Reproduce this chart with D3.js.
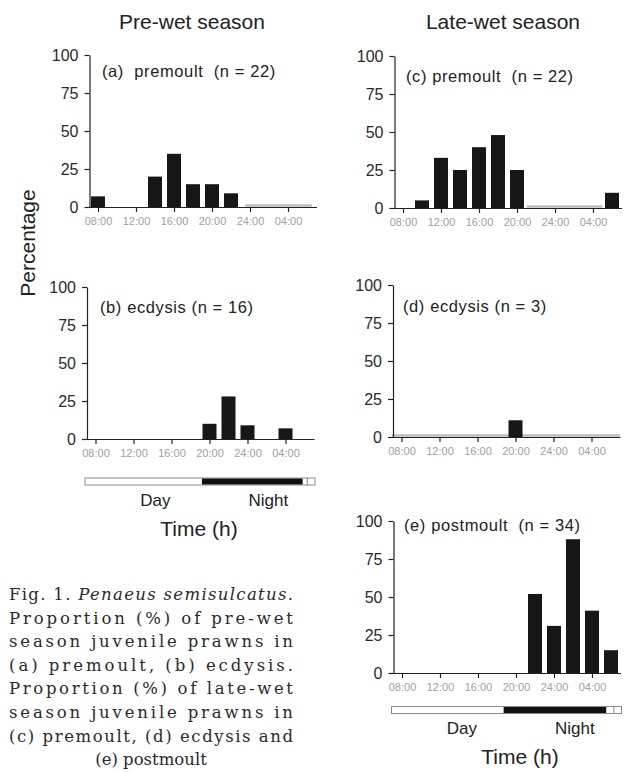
<!DOCTYPE html>
<html>
<head>
<meta charset="utf-8">
<script src="https://cdn.jsdelivr.net/npm/d3@7"></script>
<style>
  body { margin: 0; background: #fff; }
  svg { display: block; }
  text { font-family: "Liberation Sans", Arial, sans-serif; }
</style>
</head>
<body>
<svg width="628" height="772"></svg>
<script>
// 2-hour bins, centred on the even hours (30 = 06:00 next morning)
const binHours = [8, 10, 12, 14, 16, 18, 20, 22, 24, 26, 28, 30];
const tickHours = [8, 12, 16, 20, 24, 28];
const tickLabels = ["08:00", "12:00", "16:00", "20:00", "24:00", "04:00"];
const yTicks = [0, 25, 50, 75, 100];

// Percentages
const premoultPre = [7, 0, 0, 20, 35, 15, 15, 9, 0, 0, 0, 0];
const ecdysisPre = [0, 0, 0, 0, 0, 0, 10, 28, 9, 0, 7, 0];
const premoultLate = [0, 5, 33, 25, 40, 48, 25, 0, 0, 0, 0, 10];
const ecdysisLate = [0, 0, 0, 0, 0, 0, 11, 0, 0, 0, 0, 0];
const postmoultLate = [0, 0, 0, 0, 0, 0, 0, 52, 31, 88, 41, 15];

// Faint grey stretches along the baseline (hours)
const greyA = [23.5, 30.5];
const greyC = [21, 29];
const greyD = [7, 31];

// Night part of the day/night strip (hours)
const nightPre = [19.2, 29.8];
const nightLate = [18.7, 29.5];

const captionLines = [
  "Fig. 1. |Penaeus semisulcatus.",
  "Proportion (%) of pre-wet",
  "season juvenile prawns in",
  "(a) premoult, (b) ecdysis.",
  "Proportion (%) of late-wet",
  "season juvenile prawns in",
  "(c) premoult, (d) ecdysis and",
  "(e) postmoult"
];

const svg = d3.select("svg");
const hourPx = 9.5;      // px per hour
const barW = 14;

function drawPanel(cfg) {
  const x = d3.scaleLinear().domain([7, 31]).range([cfg.x0, cfg.x0 + 24 * hourPx]);
  const y = d3.scaleLinear().domain([0, 100]).range([cfg.y0, cfg.y0 - 152]);
  const g = svg.append("g");

  // grey baseline stretch
  if (cfg.grey) {
    g.append("line")
      .attr("x1", x(cfg.grey[0])).attr("x2", x(cfg.grey[1]))
      .attr("y1", y(0) - 1.5).attr("y2", y(0) - 1.5)
      .attr("stroke", "#bdbdbd").attr("stroke-width", 2.5);
  }

  // bars
  g.append("g").attr("fill", "#171717")
    .selectAll("rect")
    .data(binHours.map((h, i) => ({ h, v: cfg.values[i] })).filter(d => d.v > 0))
    .join("rect")
      .attr("x", d => x(d.h) - barW / 2)
      .attr("y", d => y(d.v))
      .attr("width", barW)
      .attr("height", d => y(0) - y(d.v));

  // y axis
  const yAx = g.append("g")
    .attr("transform", `translate(${x(7) + 1},0)`)
    .call(d3.axisLeft(y).tickValues(yTicks).tickSize(5).tickSizeOuter(0).tickPadding(6));
  yAx.selectAll("text").attr("font-size", 16).attr("fill", "#2a2a2a")
    .style("font-family", '"Liberation Sans", Arial, sans-serif');
  yAx.selectAll("line, path").attr("stroke", "#222").attr("stroke-width", 1.2);

  // x axis
  const xAx = g.append("g")
    .attr("transform", `translate(0,${y(0)})`)
    .call(d3.axisBottom(x).tickValues(tickHours)
      .tickFormat((d, i) => tickLabels[i]).tickSize(5).tickSizeOuter(0).tickPadding(5));
  xAx.selectAll("text").attr("font-size", 11).attr("fill", "#a0a0a0")
    .style("font-family", '"Liberation Sans", Arial, sans-serif');
  xAx.selectAll("line, path").attr("stroke", "#222").attr("stroke-width", 1.2);

  // panel label
  g.append("text")
    .attr("x", cfg.lx).attr("y", cfg.ly)
    .attr("font-size", 16.5).attr("fill", "#222")
    .attr("letter-spacing", 0.6)
    .style("white-space", "pre")
    .text(cfg.label);

  // day / night strip
  if (cfg.night) {
    const sy = cfg.stripY;
    g.append("rect")
      .attr("x", x(7) - 1).attr("y", sy - 3.5)
      .attr("width", x(31) - x(7) + 2).attr("height", 7)
      .attr("fill", "#fff").attr("stroke", "#8a8a8a").attr("stroke-width", 1);
    g.append("rect")
      .attr("x", x(cfg.night[0])).attr("y", sy - 3)
      .attr("width", x(cfg.night[1]) - x(cfg.night[0])).attr("height", 6)
      .attr("fill", "#111");
    g.append("line")
      .attr("x1", x(30.3)).attr("x2", x(30.3))
      .attr("y1", sy - 3.5).attr("y2", sy + 3.5)
      .attr("stroke", "#8a8a8a");
    g.append("text").attr("x", x(14.3)).attr("y", sy + 24)
      .attr("text-anchor", "middle").attr("font-size", 17).attr("fill", "#222")
      .text("Day");
    g.append("text").attr("x", x(26.2)).attr("y", sy + 24)
      .attr("text-anchor", "middle").attr("font-size", 17).attr("fill", "#222")
      .text("Night");
    g.append("text").attr("x", cfg.tx).attr("y", sy + 54)
      .attr("text-anchor", "middle").attr("font-size", 21).attr("fill", "#222")
      .text("Time (h)");
  }
}

drawPanel({ x0: 88.5, y0: 207, values: premoultPre, grey: greyA,
  label: "(a)  premoult  (n = 22)", lx: 102, ly: 77 });
drawPanel({ x0: 86, y0: 439, values: ecdysisPre,
  label: "(b) ecdysis (n = 16)", lx: 100, ly: 313,
  night: nightPre, stripY: 481.5, tx: 199 });
drawPanel({ x0: 393.5, y0: 208, values: premoultLate, grey: greyC,
  label: "(c) premoult  (n = 22)", lx: 406, ly: 82 });
drawPanel({ x0: 392, y0: 437, values: ecdysisLate, grey: greyD,
  label: "(d) ecdysis (n = 3)", lx: 403, ly: 312 });
drawPanel({ x0: 392.5, y0: 673, values: postmoultLate,
  label: "(e) postmoult  (n = 34)", lx: 404, ly: 531,
  night: nightLate, stripY: 710, tx: 520 });

// column titles
svg.append("text").attr("x", 192).attr("y", 29).attr("text-anchor", "middle")
  .attr("font-size", 21).attr("fill", "#222").text("Pre-wet season");
svg.append("text").attr("x", 503).attr("y", 29).attr("text-anchor", "middle")
  .attr("font-size", 21).attr("fill", "#222").text("Late-wet season");

// y title
svg.append("text")
  .attr("transform", "translate(35,243) rotate(-90)")
  .attr("text-anchor", "middle").attr("font-size", 21).attr("fill", "#222")
  .text("Percentage");

// caption, justified
const serif = '"DejaVu Serif", "Liberation Serif", serif';
const cap = svg.append("g").attr("font-size", 16.5).attr("fill", "#2a2a2a");
captionLines.forEach((line, i) => {
  const yPos = 600 + i * 23.6;
  const last = i === captionLines.length - 1;
  const t = cap.append("text")
    .attr("y", yPos)
    .style("font-family", serif);
  if (last) {
    t.attr("x", 151).attr("text-anchor", "middle");
  } else {
    t.attr("x", 9).attr("textLength", 284).attr("lengthAdjust", "spacing");
  }
  const parts = line.split("|");
  t.append("tspan").text(parts[0]);
  if (parts[1]) t.append("tspan").attr("font-style", "italic").text(parts[1]);
});
</script>
</body>
</html>
